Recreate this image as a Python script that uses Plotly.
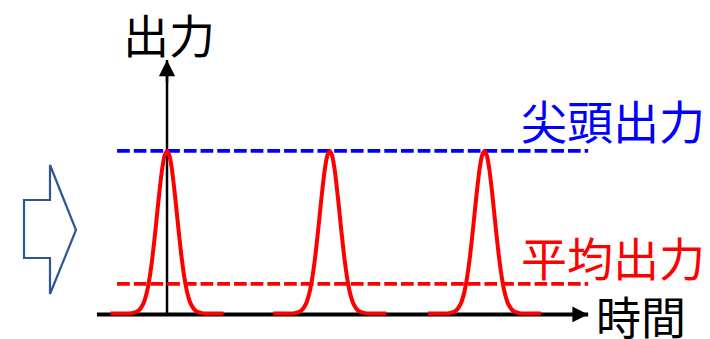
import plotly.graph_objects as go

W, H = 710, 339

# ---- data (time in pulse periods, power relative to peak) ----
pulse_centers = [0.0, 1.02, 1.99]
pulse_offsets = [-0.354, -0.25, -0.22, -0.18, -0.15, -0.13, -0.11, -0.09, -0.07, -0.05, -0.03, -0.015, 0.0,
                 0.015, 0.03, 0.05, 0.07, 0.09, 0.11, 0.13, 0.15, 0.18, 0.22, 0.25, 0.354]
pulse_levels = [0.0, 0.0, 0.002, 0.016, 0.057, 0.116, 0.215, 0.357, 0.536, 0.728, 0.892, 0.972, 1.0,
                0.972, 0.892, 0.728, 0.536, 0.357, 0.215, 0.116, 0.057, 0.016, 0.002, 0.0, 0.0]
peak_power = 1.0
average_power = 0.182
level_line_span = [-0.313, 2.64]
time_axis_span = [-0.439, 2.64]
power_axis_span = [0.0, 1.56]
axis_level = -0.006

label_power = "出力"
label_time = "時間"
label_peak = "尖頭出力"
label_avg = "平均出力"

X_RANGE = [-1.047, 3.404]
Y_RANGE = [-0.157, 1.929]


def px(x):
    return x / W


def py(y):
    return 1 - y / H


fig = go.Figure()

# axes lines (drawn first so the pulses sit on top)
fig.add_trace(go.Scatter(x=time_axis_span, y=[axis_level, axis_level], mode="lines",
                         line=dict(color="black", width=4), hoverinfo="skip"))
fig.add_trace(go.Scatter(x=[0, 0], y=power_axis_span, mode="lines",
                         line=dict(color="black", width=2.5), hoverinfo="skip"))

# level lines
fig.add_trace(go.Scatter(x=level_line_span, y=[peak_power, peak_power], mode="lines",
                         line=dict(color="#0000FF", width=3.8, dash="12.7px,4px"), hoverinfo="skip"))
fig.add_trace(go.Scatter(x=level_line_span, y=[average_power, average_power], mode="lines",
                         line=dict(color="#FF0000", width=3.8, dash="12.7px,4px"), hoverinfo="skip"))

# pulses
for c in pulse_centers:
    fig.add_trace(go.Scatter(x=[c + o for o in pulse_offsets], y=[peak_power * v for v in pulse_levels],
                             mode="lines", line=dict(color="#FF0000", width=4, shape="spline", smoothing=0.6),
                             hoverinfo="skip"))

annotations = [
    # arrow heads
    dict(x=time_axis_span[1], y=axis_level, ax=time_axis_span[1] - 0.15, ay=axis_level,
         xref="x", yref="y", axref="x", ayref="y", text="", showarrow=True,
         arrowhead=2, arrowsize=1.05, arrowwidth=3, arrowcolor="black", standoff=0),
    dict(x=0, y=power_axis_span[1], ax=0, ay=power_axis_span[1] - 0.15,
         xref="x", yref="y", axref="x", ayref="y", text="", showarrow=True,
         arrowhead=2, arrowsize=1.3, arrowwidth=2.5, arrowcolor="black", standoff=0),
    # labels
    dict(x=px(168.5), y=py(33), xref="paper", yref="paper", text=label_power, showarrow=False,
         font=dict(family="Noto Sans CJK JP", size=46, color="black"), xanchor="center", yanchor="middle"),
    dict(x=px(613), y=py(119), xref="paper", yref="paper", text=label_peak, showarrow=False,
         font=dict(family="Noto Sans CJK JP", size=46, color="#0000FF"), xanchor="center", yanchor="middle"),
    dict(x=px(613), y=py(256), xref="paper", yref="paper", text=label_avg, showarrow=False,
         font=dict(family="Noto Sans CJK JP", size=46, color="#FF0000"), xanchor="center", yanchor="middle"),
    dict(x=px(641), y=py(315), xref="paper", yref="paper", text=label_time, showarrow=False,
         font=dict(family="Noto Sans CJK JP", size=45, color="black"), xanchor="center", yanchor="middle"),
]

# block arrow on the left (decoration)
arrow_pts = [(24, 200), (50, 200), (50, 165), (76, 230), (50, 294), (50, 258), (24, 258)]
path = "M " + " L ".join(f"{px(x):.5f},{py(y):.5f}" for x, y in arrow_pts) + " Z"

fig.update_layout(
    width=W, height=H, autosize=False,
    margin=dict(l=0, r=0, t=0, b=0),
    paper_bgcolor="white", plot_bgcolor="white",
    showlegend=False,
    xaxis=dict(range=X_RANGE, visible=False, fixedrange=True),
    yaxis=dict(range=Y_RANGE, visible=False, fixedrange=True),
    annotations=annotations,
    shapes=[dict(type="path", path=path, xref="paper", yref="paper",
                 line=dict(color="#2F5597", width=2.2), fillcolor="rgba(0,0,0,0)")],
)

fig.write_html(
    "out.html",
    config={"displayModeBar": False},
    post_script="document.body.style.margin='0px'; document.body.style.padding='0px'; document.body.style.overflow='hidden';",
)
